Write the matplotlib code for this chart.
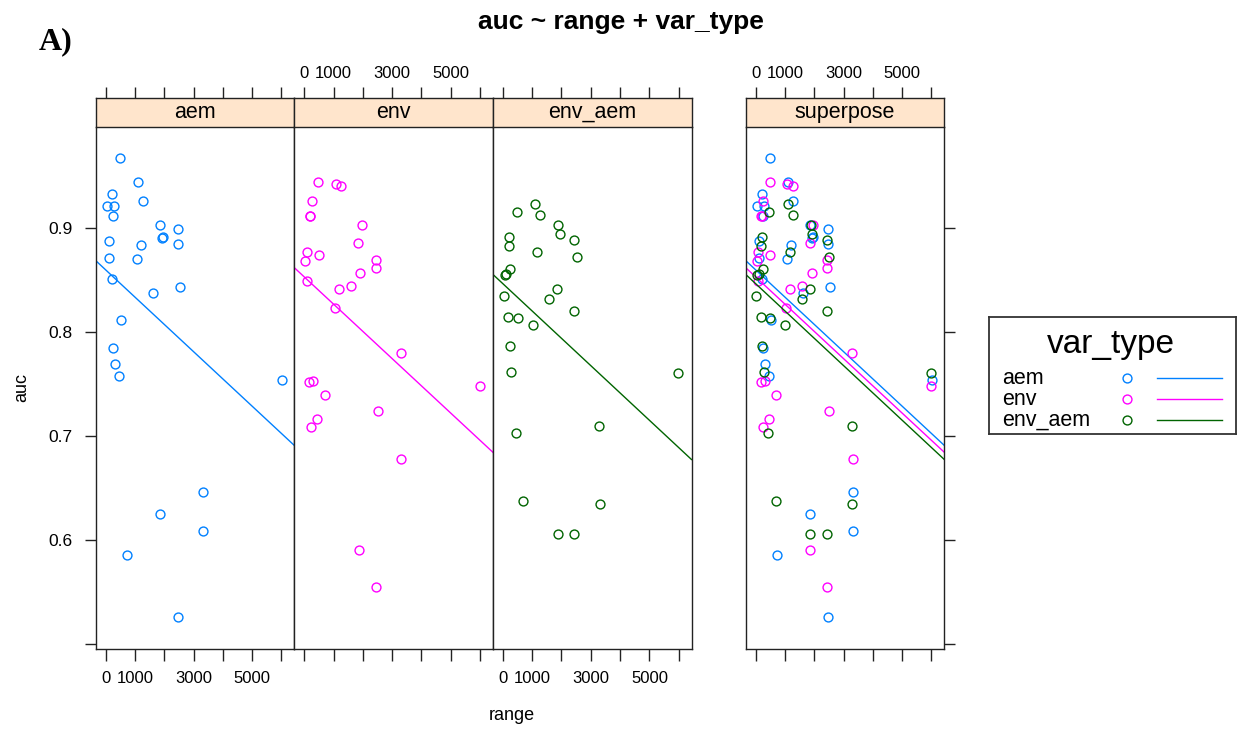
import numpy as np
import matplotlib.pyplot as plt

plt.rcParams['font.family'] = ['Liberation Sans', 'DejaVu Sans']

### Couleurs lattice (superpose.symbol)
col_aem = '#0080ff'
col_env = '#ff00ff'
col_env_aem = '#006400'
strip_bg = '#ffe5cc'

### Données
aem_range = [488, 1113, 215, 1283, 34, 283, 239, 1853, 2457, 1920, 1965, 123, 2457, 1194,
             102, 1058, 205, 2536, 1604, 512, 239, 307, 454, 6007, 3311, 1864, 3331, 717, 2457]
aem_auc = [0.9675, 0.9445, 0.9329, 0.9267, 0.9214, 0.9214, 0.9123, 0.9036, 0.8997, 0.8910, 0.8912,
           0.8875, 0.8851, 0.8837, 0.8715, 0.8705, 0.8512, 0.8432, 0.8376, 0.8115, 0.7849, 0.7699,
           0.7580, 0.7542, 0.6463, 0.6250, 0.6083, 0.5860, 0.5262]

env_range = [478, 1082, 1263, 249, 180, 210, 1956, 1843, 78, 502, 34, 2434, 2434, 1911, 92, 1594,
             1171, 1034, 3287, 171, 307, 5997, 706, 2515, 444, 239, 3311, 1853, 2434]
env_auc = [0.9448, 0.9427, 0.9409, 0.9267, 0.9119, 0.9121, 0.9036, 0.8861, 0.8771, 0.8746, 0.8683,
           0.8698, 0.8617, 0.8572, 0.8492, 0.8446, 0.8418, 0.8229, 0.7804, 0.7518, 0.7527, 0.7486,
           0.7392, 0.7238, 0.7169, 0.7085, 0.6784, 0.5901, 0.5551]

env_aem_range = [1092, 467, 1263, 1888, 1935, 216, 2434, 194, 1171, 2515, 249, 60, 100, 24, 1853,
                 1570, 2434, 171, 502, 1014, 229, 283, 5983, 3276, 433, 693, 3300, 1867, 2434]
env_aem_auc = [0.9231, 0.9158, 0.9127, 0.9029, 0.8945, 0.8917, 0.8883, 0.8827, 0.8771, 0.8722,
               0.8613, 0.8552, 0.8556, 0.8351, 0.8415, 0.8320, 0.8209, 0.8145, 0.8139, 0.8072,
               0.7863, 0.7619, 0.7611, 0.7098, 0.7032, 0.6379, 0.6345, 0.6058, 0.6058]

# droites de régression (ordonnée à l'origine, pente)
fit_aem = (0.8600, -2.624e-5)
fit_env = (0.8532, -2.621e-5)
fit_env_aem = (0.8467, -2.628e-5)

groupes = ['aem', 'env', 'env_aem']
couleurs = [col_aem, col_env, col_env_aem]
xs = [aem_range, env_range, env_aem_range]
ys = [aem_auc, env_auc, env_aem_auc]
fits = [fit_aem, fit_env, fit_env_aem]

x_ticks = [0, 1000, 2000, 3000, 4000, 5000, 6000]
x_ticklabels = ['0', '1000', '', '3000', '', '5000', '']
y_ticks = [0.5, 0.6, 0.7, 0.8, 0.9]
y_ticklabels = ['', '0.6', '0.7', '0.8', '0.9']
xlim = (-341, 6437)
ylim = (0.4949, 0.9975)

###Figure

W, H = 1243, 740
fig = plt.figure(figsize=(W / 100, H / 100), dpi=100)

def fx(px):
    return px / W

def fy(py):
    return 1 - py / H

lefts = [95.7, 294.3, 492.9, 745.7]
pw = 198.6
top_plot, bot_plot, top_strip = 127, 649.3, 98.3
titres = ['aem', 'env', 'env_aem', 'superpose']

for i, nom in enumerate(titres):
    ax = fig.add_axes([fx(lefts[i]), fy(bot_plot), pw / W, (bot_plot - top_plot) / H])
    st = fig.add_axes([fx(lefts[i]), fy(top_plot), pw / W, (top_plot - top_strip) / H])

    if i < 3:
        idx = [i]
    else:
        idx = [0, 1, 2]
    xl = np.array(xlim)
    for k in idx:
        ax.plot(xs[k], ys[k], 'o', ms=6.4, mfc='none', mec=couleurs[k], mew=1.0, clip_on=False)
        b0, a0 = fits[k]
        ax.plot(xl, b0 + a0 * xl, color=couleurs[k], lw=1.0)

    ax.set_xlim(xlim)
    ax.set_ylim(ylim)
    st.set_xlim(xlim)
    st.set_ylim(0, 1)
    st.set_facecolor(strip_bg)
    st.text(0.5, 0.5, nom, ha='center', va='center', fontsize=15.5, transform=st.transAxes)

    for a in (ax, st):
        for s in a.spines.values():
            s.set_linewidth(1.0)
            s.set_color('#222222')
    ax.spines['top'].set_visible(False)

    ax.set_xticks(x_ticks)
    ax.set_xticklabels(x_ticklabels)
    st.set_xticks(x_ticks)
    st.set_xticklabels(x_ticklabels)
    st.set_yticks([])
    ax.tick_params(axis='x', direction='out', length=8.4, width=1, color='#222222',
                   bottom=True, top=False, labelbottom=(i in (0, 2)), labelsize=12, pad=7.5)
    st.tick_params(axis='x', direction='out', length=8, width=1, color='#222222',
                   bottom=False, top=True, labelbottom=False, labeltop=(i in (1, 3)),
                   labelsize=12, pad=4.5)

    ax.set_yticks(y_ticks)
    ax.set_yticklabels(y_ticklabels)
    ax.tick_params(axis='y', direction='out', length=8, width=1, color='#222222',
                   left=(i == 0), right=(i == 3), labelleft=(i == 0), labelright=False,
                   labelsize=12.5, pad=8.5)

fig.text(fx(22), fy(388), 'auc', rotation=90, ha='center', va='center', fontsize=13)
fig.text(fx(512), fy(716), 'range', ha='center', va='center', fontsize=13)
fig.text(fx(621), fy(22), 'auc ~ range + var_type', ha='center', va='center',
         fontsize=19, fontweight='bold')
fig.text(fx(39), fy(42), 'A)', ha='left', va='center', fontsize=23, fontweight='bold',
         family=['Liberation Serif', 'DejaVu Serif'])

###Légende
lg = fig.add_axes([fx(989), fy(434), (1236 - 989) / W, (434 - 316.7) / H])
lg.set_xlim(989, 1236)
lg.set_ylim(434, 316.7)
lg.set_xticks([])
lg.set_yticks([])
for s in lg.spines.values():
    s.set_linewidth(1.3)
    s.set_color('#333333')
lg.text(1111, 345, 'var_type', ha='center', va='center', fontsize=24)
for k, (g, c) in enumerate(zip(groupes, couleurs)):
    yk = 378.3 + 21 * k
    lg.text(1002, yk, g, ha='left', va='center', fontsize=15.5, clip_on=False)
    lg.plot([1126.7], [yk], 'o', ms=6.4, mfc='none', mec=c, mew=1.0)
    lg.plot([1156.7, 1221.7], [yk, yk], color=c, lw=1.0)

fig.savefig('out.png', dpi=100)
